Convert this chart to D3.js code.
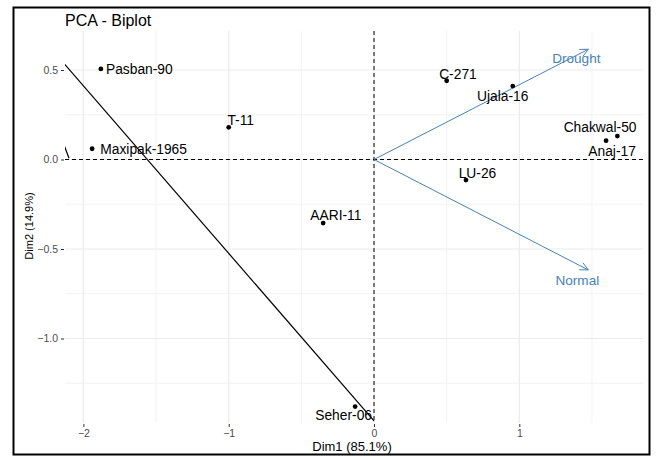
<!DOCTYPE html>
<html>
<head>
<meta charset="utf-8">
<script src="https://cdn.jsdelivr.net/npm/d3@7"></script>
<style>
  body { margin: 0; background: #fff; }
  text { font-family: "Liberation Sans", Arial, sans-serif; }
</style>
</head>
<body>
<div id="chart-container"></div>
<script>
// individuals (genotype scores on Dim1 / Dim2)
const names = ["Pasban-90", "T-11", "Maxipak-1965", "AARI-11", "Seher-06",
  "C-271", "Ujala-16", "LU-26", "Chakwal-50", "Anaj-17"];
const dim1 = [-1.88, -1.00, -1.94, -0.35, -0.13, 0.50, 0.955, 0.633, 1.675, 1.597];
const dim2 = [0.506, 0.18, 0.06, -0.355, -1.38, 0.44, 0.41, -0.115, 0.131, 0.105];

// variables (arrows)
const varNames = ["Drought", "Normal"];
const varDim1 = [1.475, 1.475];
const varDim2 = [0.616, -0.617];

// extra black line and small arc fragment
const lineDim1 = [-2.13, 0.0];
const lineDim2 = [0.533, -1.46];
const arcDim1 = [-2.133, -2.099];
const arcDim2 = [0.081, 0.007];

const xTicks = [-2, -1, 0, 1];
const yTicks = [0.5, 0.0, -0.5, -1.0];
const xMinor = [-1.5, -0.5, 0.5, 1.5];
const yMinor = [0.25, -0.25, -0.75, -1.25];

// label nudges in pixels (text centre relative to the point)
const labelNudge = {
  "Pasban-90": [38.5, 0], "T-11": [12, -7], "Maxipak-1965": [51.5, 0],
  "AARI-11": [12.7, -7.5], "Seher-06": [-11.5, 9], "C-271": [11.3, -6.7],
  "Ujala-16": [-10, 10], "LU-26": [11.5, -7], "Chakwal-50": [-17.3, -9],
  "Anaj-17": [6, 10.8]
};
const varLabelNudge = { "Drought": [-12, 9], "Normal": [-11, 10.5] };

const main = function() {
  const width = 657, height = 456;
  const left = 65, right = 643, top = 31, bottom = 423;

  const x = d3.scaleLinear().domain([-2.1267, 1.8513]).range([left, right]);
  const y = d3.scaleLinear().domain([0.7179, -1.472]).range([top, bottom]);

  const svg = d3.select("#chart-container")
    .append("svg")
    .attr("width", width)
    .attr("height", height);

  svg.append("defs").append("clipPath").attr("id", "panel")
    .append("rect")
    .attr("x", left).attr("y", top)
    .attr("width", right - left).attr("height", bottom - top);

  // grid
  const grid = svg.append("g");
  grid.selectAll(".xmin").data(xMinor).enter().append("line")
    .attr("x1", d => x(d)).attr("x2", d => x(d))
    .attr("y1", top).attr("y2", bottom)
    .style("stroke", "#f2f2f2").style("stroke-width", 1);
  grid.selectAll(".ymin").data(yMinor).enter().append("line")
    .attr("y1", d => y(d)).attr("y2", d => y(d))
    .attr("x1", left).attr("x2", right)
    .style("stroke", "#f2f2f2").style("stroke-width", 1);
  grid.selectAll(".xmaj").data(xTicks).enter().append("line")
    .attr("x1", d => x(d)).attr("x2", d => x(d))
    .attr("y1", top).attr("y2", bottom)
    .style("stroke", "#ebebeb").style("stroke-width", 1.2);
  grid.selectAll(".ymaj").data(yTicks).enter().append("line")
    .attr("y1", d => y(d)).attr("y2", d => y(d))
    .attr("x1", left).attr("x2", right)
    .style("stroke", "#ebebeb").style("stroke-width", 1.2);

  // axes
  const xAxis = svg.append("g")
    .attr("transform", "translate(0," + (bottom + 1) + ")")
    .call(d3.axisBottom(x).tickValues(xTicks).tickSize(3).tickPadding(3)
      .tickFormat(d3.format("d")));
  const yAxis = svg.append("g")
    .attr("transform", "translate(" + (left - 1) + ",0)")
    .call(d3.axisLeft(y).tickValues(yTicks).tickSize(3).tickPadding(3)
      .tickFormat(d3.format(".1f")));
  [xAxis, yAxis].forEach(a => {
    a.select(".domain").remove();
    a.selectAll(".tick line").style("stroke", "#333").style("stroke-width", 1);
    a.selectAll(".tick text").style("fill", "#4d4d4d")
      .style("font-size", "10.5px")
      .style("font-family", "'Liberation Sans', Arial, sans-serif");
  });

  const panel = svg.append("g").attr("clip-path", "url(#panel)");

  // reference dashed lines
  panel.append("line")
    .attr("x1", x(0)).attr("x2", x(0)).attr("y1", top).attr("y2", bottom)
    .style("stroke", "black").style("stroke-dasharray", "4,3");
  panel.append("line")
    .attr("x1", left).attr("x2", right).attr("y1", y(0)).attr("y2", y(0))
    .style("stroke", "black").style("stroke-dasharray", "4,3");

  // black line + fragment
  const pathLine = d3.line().x(d => x(d[0])).y(d => y(d[1]));
  panel.append("path")
    .attr("d", pathLine(d3.zip(lineDim1, lineDim2)))
    .style("fill", "none").style("stroke", "black").style("stroke-width", 1.2);
  panel.append("path")
    .attr("d", pathLine(d3.zip(arcDim1, arcDim2)))
    .style("fill", "none").style("stroke", "black").style("stroke-width", 1.2);

  // variable arrows
  const blue = "#4682B4";
  varNames.forEach((v, i) => {
    const x0 = x(0), y0 = y(0), x1 = x(varDim1[i]), y1 = y(varDim2[i]);
    const ang = Math.atan2(y1 - y0, x1 - x0);
    const hl = 9, ha = Math.PI / 7;
    svg.append("line")
      .attr("x1", x0).attr("y1", y0).attr("x2", x1).attr("y2", y1)
      .style("stroke", blue).style("stroke-width", 1);
    svg.append("path")
      .attr("d", "M" + (x1 - hl * Math.cos(ang - ha)) + "," + (y1 - hl * Math.sin(ang - ha)) +
        "L" + x1 + "," + y1 +
        "L" + (x1 - hl * Math.cos(ang + ha)) + "," + (y1 - hl * Math.sin(ang + ha)))
      .style("fill", "none").style("stroke", blue).style("stroke-width", 1);
    svg.append("text")
      .attr("x", x1 + varLabelNudge[v][0])
      .attr("y", y1 + varLabelNudge[v][1])
      .attr("dy", "0.35em")
      .attr("text-anchor", "middle")
      .style("font-size", "13.6px")
      .style("fill", blue)
      .text(v);
  });

  // points
  const pts = names.map((n, i) => ({ name: n, d1: dim1[i], d2: dim2[i] }));
  svg.selectAll(".pt").data(pts).enter().append("circle")
    .attr("cx", d => x(d.d1)).attr("cy", d => y(d.d2)).attr("r", 2.4)
    .style("fill", "black");
  svg.selectAll(".lab").data(pts).enter().append("text")
    .attr("x", d => x(d.d1) + labelNudge[d.name][0])
    .attr("y", d => y(d.d2) + labelNudge[d.name][1])
    .attr("dy", "0.35em")
    .attr("text-anchor", "middle")
    .style("font-size", "13.8px")
    .style("fill", "black")
    .text(d => d.name);

  // titles
  svg.append("text")
    .attr("x", left).attr("y", 20).attr("dy", "0.35em")
    .style("font-size", "16px").text("PCA - Biplot");
  svg.append("text")
    .attr("x", (left + right) / 2 - 2).attr("y", 446.5).attr("dy", "0.35em")
    .attr("text-anchor", "middle")
    .style("font-size", "13px").text("Dim1 (85.1%)");
  svg.append("text")
    .attr("transform", "translate(29," + ((top + bottom) / 2 - 1) + ") rotate(-90)")
    .attr("dy", "0.35em")
    .attr("text-anchor", "middle")
    .style("font-size", "11px").text("Dim2 (14.9%)");

  // outer frame
  svg.append("rect")
    .attr("x", 13.5).attr("y", 7.5).attr("width", 636).attr("height", 447)
    .style("fill", "none").style("stroke", "black").style("stroke-width", 2);
};

window.onload = main;
</script>
</body>
</html>
